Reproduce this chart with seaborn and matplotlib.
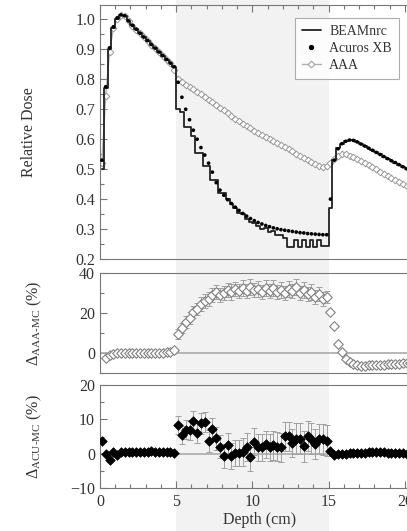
import numpy as np
import pandas as pd
import matplotlib
matplotlib.use("Agg")
import matplotlib.pyplot as plt
import seaborn as sns
from matplotlib.patches import Rectangle
from matplotlib.lines import Line2D
from matplotlib.transforms import blended_transform_factory
from matplotlib.ticker import MultipleLocator

# ---------------- data (depth bin centres, cm) ----------------
depth = np.arange(84) * 0.25 + 0.125

beamnrc = [0.50, 0.77, 0.90, 0.97, 1.00, 1.015, 1.012, 0.995, 0.98, 0.967,
           0.954, 0.941, 0.929, 0.916, 0.904, 0.891, 0.879, 0.866, 0.854, 0.842,
           0.70, 0.69, 0.64, 0.64, 0.61, 0.555, 0.555, 0.51, 0.51, 0.465,
           0.465, 0.42, 0.42, 0.40, 0.385, 0.37, 0.355, 0.35, 0.335, 0.325,
           0.32, 0.31, 0.30, 0.305, 0.29, 0.295, 0.28, 0.28, 0.27, 0.24,
           0.24, 0.265, 0.24, 0.265, 0.24, 0.265, 0.24, 0.265, 0.245, 0.245,
           0.37, 0.53, 0.57, 0.585, 0.593, 0.597, 0.596, 0.591, 0.584, 0.577,
           0.570, 0.563, 0.556, 0.549, 0.542, 0.535, 0.528, 0.522, 0.515, 0.508,
           0.501, 0.494, 0.487, 0.48]

acuros = [0.53, 0.775, 0.905, 0.975, 1.005, 1.015, 1.012, 0.995, 0.98, 0.967,
          0.954, 0.941, 0.929, 0.916, 0.904, 0.891, 0.879, 0.866, 0.854, 0.842,
          0.79, 0.74, 0.70, 0.665, 0.63, 0.60, 0.572, 0.547, 0.52, 0.49,
          0.455, 0.43, 0.413, 0.398, 0.385, 0.373, 0.362, 0.352, 0.343, 0.335,
          0.328, 0.322, 0.317, 0.312, 0.308, 0.304, 0.301, 0.298, 0.296, 0.294,
          0.292, 0.29, 0.288, 0.287, 0.285, 0.284, 0.283, 0.282, 0.281, 0.281,
          0.40, 0.53, 0.568, 0.585, 0.593, 0.597, 0.596, 0.591, 0.584, 0.577,
          0.570, 0.563, 0.556, 0.549, 0.542, 0.535, 0.528, 0.522, 0.515, 0.508,
          0.501, 0.494, 0.487, 0.48]

aaa = [0.52, 0.745, 0.89, 0.97, 1.0, 1.013, 1.01, 0.994, 0.979, 0.966,
       0.953, 0.94, 0.928, 0.915, 0.903, 0.89, 0.878, 0.865, 0.853, 0.83,
       0.80, 0.79, 0.782, 0.774, 0.766, 0.758, 0.75, 0.741, 0.732, 0.723,
       0.714, 0.705, 0.696, 0.687, 0.678, 0.669, 0.66, 0.652, 0.644, 0.636,
       0.629, 0.622, 0.615, 0.608, 0.601, 0.594, 0.587, 0.58, 0.573, 0.566,
       0.559, 0.552, 0.545, 0.538, 0.531, 0.524, 0.518, 0.512, 0.508, 0.51,
       0.52, 0.535, 0.545, 0.55, 0.549, 0.545, 0.539, 0.533, 0.527, 0.52,
       0.513, 0.506, 0.499, 0.492, 0.485, 0.478, 0.471, 0.464, 0.457, 0.45,
       0.443, 0.436, 0.429, 0.422]

delta_aaa = [np.nan, -2.5, -1.0, -0.5, 0.0, 0.2, 0.1, 0.2, 0.2, 0.1,
             0.2, 0.2, 0.2, 0.1, 0.2, 0.2, 0.2, 0.3, 0.5, 1.5,
             9.5, 12.5, 15.5, 17.5, 20.5, 22.0, 24.5, 26.0, 27.0, 29.0,
             30.5, 29.0, 30.0, 31.5, 30.5, 32.0, 31.0, 32.5, 31.0, 33.0,
             31.5, 32.0, 30.5, 32.5, 31.0, 32.5, 30.5, 31.5, 30.0, 32.0,
             31.0, 33.0, 30.0, 31.5, 29.5, 30.5, 28.0, 29.5, 27.0, 28.0,
             20.5, 13.5, 4.5, 0.5, -3.0, -4.5, -5.5, -6.0, -6.3, -6.3,
             -6.2, -6.2, -6.0, -5.9, -5.8, -5.7, -5.5, -5.4, -5.3, -5.1,
             -5.0, -4.9, -4.8, -4.7]

delta_acu = [3.8, 0.0, -1.7, 0.4, -0.5, 0.5, 0.5, 0.4, 0.5, 0.5,
             0.6, 0.5, 0.6, 0.7, 0.6, 0.5, 0.5, 0.4, 0.5, 0.3,
             8.3, 5.4, 7.0, 6.8, 9.6, 6.1, 8.8, 9.2, 3.8, 7.3,
             4.5, 2.0, -0.7, 2.5, -0.7, 0.3, 0.3, 0.5, 1.9, -1.0,
             3.5, 1.8, 1.8, 2.7, 1.8, 2.4, 2.0, 1.8, 5.1, 5.1,
             3.1, 4.4, 4.4, 2.1, 5.1, 4.4, 2.8, 4.2, 4.2, 3.8,
             0.9, -0.3, -0.2, -0.1, 0.0, 0.1, 0.1, 0.2, 0.3, 0.3,
             0.4, 0.5, 0.6, 0.5, 0.4, 0.3, 0.3, 0.2, 0.2, 0.1,
             0.0, 0.1, 0.2, 0.2]

# uncertainties for the lung bins (5-15 cm)
aaa_err = [2.5, 2.5, 3, 3, 3, 3, 3.5, 3.5, 3.5, 3.5,
           3.5, 3.5, 3.5, 3.5, 4, 3.5, 3.5, 4, 3.5, 4,
           3.5, 4, 3.5, 4, 3.5, 4, 3.5, 4, 3.5, 4,
           3.5, 4, 3.5, 4, 3.5, 4, 3.5, 3.5, 3.5, 3]
acu_err = [2.7, 2.7, 2.8, 2.8, 2.9, 2.9, 3.0, 3.0, 3.2, 3.2,
           3.4, 3.4, 3.6, 3.6, 3.8, 3.8, 3.8, 4.0, 4.0, 4.0,
           4.0, 4.0, 4.0, 4.0, 4.0, 4.2, 4.2, 4.2, 4.2, 4.2,
           4.2, 4.4, 4.4, 4.4, 4.4, 4.4, 4.4, 4.4, 4.5, 4.5]

lung_start, lung_end = 5, 15

df = pd.DataFrame({"depth": depth, "BEAMnrc": beamnrc, "Acuros XB": acuros,
                   "AAA": aaa, "dAAA": delta_aaa, "dACU": delta_acu})
lung = df[(df.depth > lung_start) & (df.depth < lung_end)].copy()
lung["aaa_err"] = aaa_err
lung["acu_err"] = acu_err

# ---------------- style ----------------
sns.set_style("ticks")
plt.rcParams["font.family"] = ["Liberation Serif", "DejaVu Serif"]
plt.rcParams["mathtext.fontset"] = "custom"
plt.rcParams["mathtext.rm"] = "Liberation Serif"
plt.rcParams["mathtext.it"] = "Liberation Serif:italic"
plt.rcParams["mathtext.bf"] = "Liberation Serif:bold"

TXT = "#333333"
SP = "#777777"

fig = plt.figure(figsize=(4.07, 5.31), dpi=100)
L, W = 100 / 407, 320 / 407
ax1 = fig.add_axes([L, 1 - 259 / 531, W, 254 / 531])
ax2 = fig.add_axes([L, 1 - 373 / 531, W, 100 / 531])
ax3 = fig.add_axes([L, 1 - 488 / 531, W, 103 / 531])

for ax in (ax1, ax2, ax3):
    ax.set_facecolor("none")
    ax.set_xlim(0, 21)
    for s in ax.spines.values():
        s.set_color(SP)
        s.set_linewidth(0.8)
        s.set_visible(True)
    ax.tick_params(which="both", direction="in", colors=SP, labelcolor=TXT,
                   labelsize=11.5, width=0.8)
    ax.tick_params(which="major", length=5)
    ax.tick_params(which="minor", length=3)
    ax.xaxis.set_major_locator(MultipleLocator(5))
    ax.xaxis.set_minor_locator(MultipleLocator(1))

# shaded lung slab across the whole figure height
band = Rectangle((lung_start, 0), lung_end - lung_start, 1,
                 transform=blended_transform_factory(ax3.transData, fig.transFigure),
                 facecolor="#f2f2f2", edgecolor="none", zorder=-10)
fig.add_artist(band)

# ---------------- top panel ----------------
sns.lineplot(data=df, x="depth", y="AAA", ax=ax1, color="#b0b0b0", lw=1.0,
             marker="D", markersize=3.4, markerfacecolor="white",
             markeredgecolor="#9a9a9a", markeredgewidth=0.7, zorder=2)
sns.lineplot(data=df, x="depth", y="BEAMnrc", ax=ax1, color="#222222", lw=1.3,
             drawstyle="steps-mid", zorder=3)
sns.scatterplot(data=df, x="depth", y="Acuros XB", ax=ax1, color="black",
                s=7, marker="o", edgecolor="none", zorder=4)
ax1.set_ylim(0.2, 1.048)
ax1.yaxis.set_major_locator(MultipleLocator(0.1))
ax1.yaxis.set_minor_locator(MultipleLocator(0.05))
ax1.yaxis.set_major_formatter(plt.FuncFormatter(lambda v, p: f"{v:.1f}"))
ax1.tick_params(axis="x", which="both", top=True, bottom=False,
                labelbottom=False, labeltop=False)
ax1.set_xlabel("")
ax1.set_ylabel("Relative Dose", fontsize=11.5, color=TXT)
ax1.yaxis.set_label_coords(-0.197, 0.5)

handles = [Line2D([], [], color="#222222", lw=1.3),
           Line2D([], [], ls="none", marker="o", ms=2.8, color="black"),
           Line2D([], [], color="#b0b0b0", lw=1.0, marker="D", ms=3.4,
                  mfc="white", mec="#9a9a9a", mew=0.7)]
leg = ax1.legend(handles, ["BEAMnrc", "Acuros XB", "AAA"], loc="upper right",
                 bbox_to_anchor=(0.934, 0.949), borderaxespad=0, fontsize=10,
                 frameon=True, fancybox=False, edgecolor="#999999",
                 handlelength=1.4, handletextpad=0.6, labelspacing=0.3,
                 borderpad=0.5)
leg.get_frame().set_linewidth(0.8)
for t in leg.get_texts():
    t.set_color(TXT)

# ---------------- middle panel ----------------
ax2.axhline(0, color="#aaaaaa", lw=1.2, zorder=1)
ax2.errorbar(lung["depth"], lung["dAAA"], yerr=lung["aaa_err"], fmt="none",
             ecolor="#a0a0a0", elinewidth=0.7, capsize=2, capthick=0.7, zorder=2)
sns.scatterplot(data=df, x="depth", y="dAAA", ax=ax2, marker="D", s=24,
                facecolor="white", edgecolor="#808080", linewidth=0.8, zorder=3)
ax2.set_ylim(-10, 40)
ax2.yaxis.set_major_locator(MultipleLocator(20))
ax2.yaxis.set_minor_locator(MultipleLocator(10))
ax2.tick_params(axis="x", which="both", bottom=False, top=False, labelbottom=False)
ax2.set_xlabel("")
ax2.set_ylabel(r"$\Delta_{\mathrm{AAA\text{-}MC}}$ (%)", fontsize=11.5, color=TXT)
ax2.yaxis.set_label_coords(-0.175, 0.5)

# ---------------- bottom panel ----------------
ax3.axhline(0, color="#aaaaaa", lw=1.2, zorder=1)
ax3.errorbar(lung["depth"], lung["dACU"], yerr=lung["acu_err"], fmt="none",
             ecolor="#a0a0a0", elinewidth=0.7, capsize=2, capthick=0.7, zorder=2)
sns.scatterplot(data=df, x="depth", y="dACU", ax=ax3, marker="D", s=24,
                color="black", edgecolor="black", linewidth=0.5, zorder=3)
ax3.set_ylim(-10, 20)
ax3.yaxis.set_major_locator(MultipleLocator(10))
ax3.yaxis.set_minor_locator(MultipleLocator(5))
ax3.yaxis.set_major_formatter(plt.FuncFormatter(lambda v, p: f"{v:.0f}".replace("-", "\u2212")))
ax3.tick_params(axis="x", which="both", bottom=True, top=False, pad=4)
ax3.set_xlabel("Depth (cm)", fontsize=11.5, color=TXT, labelpad=2)
ax3.set_ylabel(r"$\Delta_{\mathrm{ACU\text{-}MC}}$ (%)", fontsize=11.5, color=TXT)
ax3.yaxis.set_label_coords(-0.175, 0.5)

fig.savefig("out.png", dpi=100)
